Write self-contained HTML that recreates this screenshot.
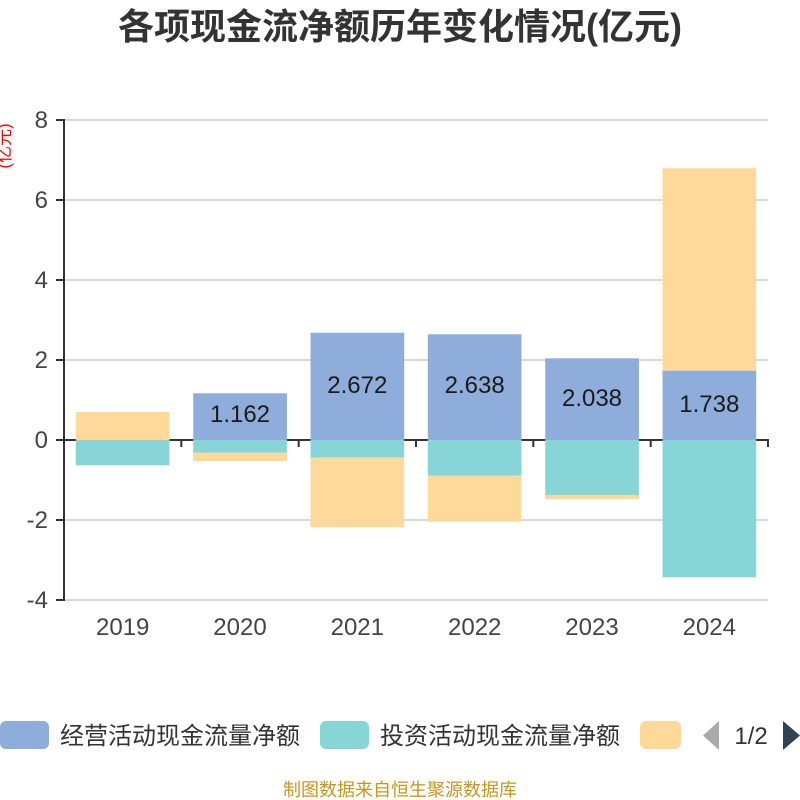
<!DOCTYPE html>
<html>
<head>
<meta charset="utf-8">
<style>
  html,body{margin:0;padding:0;background:#fff;}
  svg{display:block;}
  text{font-family:"Liberation Sans","Noto Sans CJK SC",sans-serif;}
</style>
</head>
<body>
<svg width="800" height="800" viewBox="0 0 800 800" xmlns="http://www.w3.org/2000/svg">
  <!-- Title -->
  <text x="400" y="39" text-anchor="middle" font-size="36" font-weight="bold" fill="#333">各项现金流净额历年变化情况(亿元)</text>

  <!-- Y axis name -->
  <text x="0" y="0" transform="translate(10,146) rotate(-90)" text-anchor="middle" font-size="17" fill="#ff0000">(亿元)</text>

  <!-- Grid lines -->
  <g stroke="#cccccc" stroke-width="1.5">
    <line x1="64" y1="120" x2="768" y2="120"/>
    <line x1="64" y1="200" x2="768" y2="200"/>
    <line x1="64" y1="280" x2="768" y2="280"/>
    <line x1="64" y1="360" x2="768" y2="360"/>
    <line x1="64" y1="520" x2="768" y2="520"/>
    <line x1="64" y1="600" x2="768" y2="600"/>
  </g>

  <!-- X axis line at zero with ticks -->
  <g stroke="#333" stroke-width="2">
    <line x1="64" y1="440" x2="769" y2="440"/>
    <line x1="181.3" y1="440" x2="181.3" y2="447"/>
    <line x1="298.7" y1="440" x2="298.7" y2="447"/>
    <line x1="416" y1="440" x2="416" y2="447"/>
    <line x1="533.3" y1="440" x2="533.3" y2="447"/>
    <line x1="650.7" y1="440" x2="650.7" y2="447"/>
    <line x1="768" y1="440" x2="768" y2="447"/>
  </g>

  <!-- Bars -->
  <g>
    <!-- 2019 -->
    <rect x="75.8" y="412" width="93.7" height="28" fill="#FED99A"/>
    <rect x="75.8" y="440" width="93.7" height="25.3" fill="#88D5D8"/>
    <!-- 2020 -->
    <rect x="193.2" y="393.3" width="93.7" height="46.7" fill="#8EADDA"/>
    <rect x="193.2" y="440" width="93.7" height="12.7" fill="#88D5D8"/>
    <rect x="193.2" y="452.7" width="93.7" height="8.3" fill="#FED99A"/>
    <!-- 2021 -->
    <rect x="310.5" y="332.7" width="93.7" height="107.3" fill="#8EADDA"/>
    <rect x="310.5" y="440" width="93.7" height="17.7" fill="#88D5D8"/>
    <rect x="310.5" y="457.7" width="93.7" height="69.6" fill="#FED99A"/>
    <!-- 2022 -->
    <rect x="427.8" y="334.3" width="93.7" height="105.7" fill="#8EADDA"/>
    <rect x="427.8" y="440" width="93.7" height="35.7" fill="#88D5D8"/>
    <rect x="427.8" y="475.7" width="93.7" height="46" fill="#FED99A"/>
    <!-- 2023 -->
    <rect x="545.2" y="358.3" width="93.7" height="81.7" fill="#8EADDA"/>
    <rect x="545.2" y="440" width="93.7" height="55" fill="#88D5D8"/>
    <rect x="545.2" y="495" width="93.7" height="4.3" fill="#FED99A"/>
    <!-- 2024 -->
    <rect x="662.5" y="168.3" width="93.7" height="202.4" fill="#FED99A"/>
    <rect x="662.5" y="370.7" width="93.7" height="69.3" fill="#8EADDA"/>
    <rect x="662.5" y="440" width="93.7" height="137.3" fill="#88D5D8"/>
  </g>

  <!-- Bar labels -->
  <g font-size="24" fill="#1a1a1a" text-anchor="middle">
    <text x="240" y="422">1.162</text>
    <text x="357.3" y="393">2.672</text>
    <text x="474.7" y="393">2.638</text>
    <text x="592" y="406">2.038</text>
    <text x="709.3" y="412">1.738</text>
  </g>

  <!-- Y axis line with ticks -->
  <g stroke="#333" stroke-width="2">
    <line x1="64" y1="119" x2="64" y2="601"/>
    <line x1="56" y1="120" x2="64" y2="120"/>
    <line x1="56" y1="200" x2="64" y2="200"/>
    <line x1="56" y1="280" x2="64" y2="280"/>
    <line x1="56" y1="360" x2="64" y2="360"/>
    <line x1="56" y1="440" x2="64" y2="440"/>
    <line x1="56" y1="520" x2="64" y2="520"/>
    <line x1="56" y1="600" x2="64" y2="600"/>
  </g>

  <!-- Y tick labels -->
  <g font-size="24" fill="#444" text-anchor="end">
    <text x="48" y="128">8</text>
    <text x="48" y="208">6</text>
    <text x="48" y="288">4</text>
    <text x="48" y="368">2</text>
    <text x="48" y="448">0</text>
    <text x="48" y="528">-2</text>
    <text x="48" y="608">-4</text>
  </g>

  <!-- X tick labels -->
  <g font-size="24" fill="#444" text-anchor="middle">
    <text x="122.7" y="635">2019</text>
    <text x="240" y="635">2020</text>
    <text x="357.3" y="635">2021</text>
    <text x="474.7" y="635">2022</text>
    <text x="592" y="635">2023</text>
    <text x="709.3" y="635">2024</text>
  </g>

  <!-- Legend -->
  <rect x="0" y="721" width="49" height="28" rx="6" fill="#8EADDA"/>
  <text x="60" y="744" font-size="24" fill="#333">经营活动现金流量净额</text>
  <rect x="320" y="721" width="49" height="28" rx="6" fill="#88D5D8"/>
  <text x="380" y="744" font-size="24" fill="#333">投资活动现金流量净额</text>
  <rect x="640" y="721" width="41" height="28" rx="6" fill="#FED99A"/>
  <rect x="681" y="715" width="10" height="40" fill="#fff"/>

  <!-- Pager -->
  <polygon points="719,721 719,750 703,735.5" fill="#aaaaaa"/>
  <text x="751" y="744" font-size="24" fill="#333" text-anchor="middle">1/2</text>
  <polygon points="783,721 783,750 800,735.5" fill="#2f4554"/>

  <!-- Source -->
  <text x="400" y="796" font-size="18" fill="#c8961e" text-anchor="middle">制图数据来自恒生聚源数据库</text>
</svg>
</body>
</html>
